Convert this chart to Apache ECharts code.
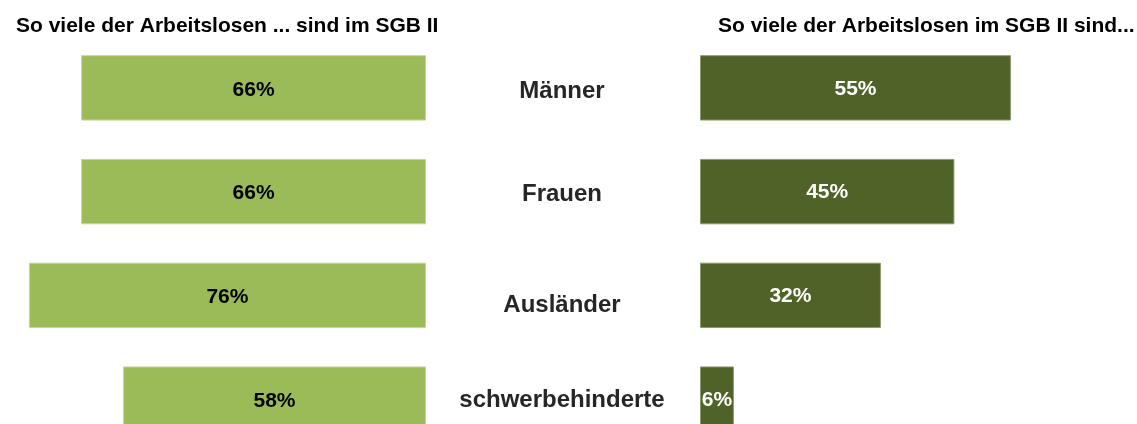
<!DOCTYPE html>
<html lang="de">
<head>
    <meta charset="UTF-8">
    <script src="https://cdn.jsdelivr.net/npm/echarts@6/dist/echarts.min.js"></script>
    <title>SGB II Anteile</title>
    <style>
        html, body { margin: 0; padding: 0; background: #fff; overflow: hidden; }
    </style>
</head>
<body>
<!-- etwas höher als das Fenster: die letzte Balkenreihe wird unten angeschnitten -->
<div id="main" style="width: 1137px;height:451px;"></div>

<script type="text/javascript">

        // Daten
        var categories = ['Männer', 'Frauen', 'Ausländer', 'schwerbehinderte'];
        var inSgb2 = [66, 66, 76, 58];        // Anteil der Arbeitslosen, die im SGB II sind
        var sgb2Anteil = [55, 45, 32, 6];     // Zusammensetzung der Arbeitslosen im SGB II
        var titleLeft = 'So viele der Arbeitslosen ... sind im SGB II';
        var titleRight = 'So viele der Arbeitslosen im SGB II sind...';

        var font = 'Liberation Sans, Arial, Helvetica, sans-serif';

        // Kategorienamen sitzen im Original nicht ganz mittig (Ausländer deutlich tiefer)
        var labelShift = [3, 3, 10, 1];
        var richStyles = {};
        labelShift.forEach(function (s, i) {
            richStyles['c' + i] = {
                fontSize: 24,
                fontWeight: 'bold',
                color: '#262626',
                fontFamily: font,
                padding: [s * 2, 0, 0, 0]
            };
        });

        var myChart = echarts.init(document.getElementById('main'));

        var option = {
            backgroundColor: '#ffffff',
            animation: false,
            textStyle: { fontFamily: font },

            title: [
                {
                    text: titleLeft,
                    left: 11,
                    top: 11,
                    textStyle: { fontSize: 21, fontWeight: 'bold', color: '#000', fontFamily: font }
                },
                {
                    text: titleRight,
                    left: 713,
                    top: 11,
                    textStyle: { fontSize: 21, fontWeight: 'bold', color: '#000', fontFamily: font }
                }
            ],

            grid: [
                { left: 8, right: 711, top: 36, bottom: 0, containLabel: false },
                { left: 700, right: 13, top: 36, bottom: 0, containLabel: false }
            ],

            xAxis: [
                {
                    gridIndex: 0, type: 'value', min: 0, max: 80, inverse: true,
                    show: false
                },
                {
                    gridIndex: 1, type: 'value', min: 0, max: 75,
                    show: false
                }
            ],

            yAxis: [
                {
                    gridIndex: 0, type: 'category', data: categories, inverse: true,
                    position: 'right',
                    axisLine: { show: false },
                    axisTick: { show: false },
                    splitLine: { show: false },
                    axisLabel: {
                        margin: 136,
                        align: 'center',
                        fontSize: 24,
                        fontWeight: 'bold',
                        color: '#262626',
                        fontFamily: font,
                        formatter: function (value, index) {
                            return '{c' + index + '|' + value + '}';
                        },
                        rich: richStyles
                    }
                },
                {
                    gridIndex: 1, type: 'category', data: categories, inverse: true,
                    show: false
                }
            ],

            series: [
                {
                    name: 'im SGB II',
                    type: 'bar',
                    xAxisIndex: 0,
                    yAxisIndex: 0,
                    data: inSgb2,
                    barCategoryGap: '37%',
                    itemStyle: { color: '#9BBB59', borderColor: '#C3D69B', borderWidth: 1 },
                    label: {
                        show: true,
                        position: 'inside',
                        offset: [0, 2],
                        formatter: '{c}%',
                        fontSize: 21,
                        fontWeight: 'bold',
                        color: '#000',
                        fontFamily: font
                    }
                },
                {
                    name: 'Anteil im SGB II',
                    type: 'bar',
                    xAxisIndex: 1,
                    yAxisIndex: 1,
                    data: sgb2Anteil,
                    barCategoryGap: '37%',
                    itemStyle: { color: '#4F6228', borderColor: '#8A9A6A', borderWidth: 1 },
                    label: {
                        show: true,
                        position: 'inside',
                        offset: [0, 1],
                        formatter: '{c}%',
                        fontSize: 21,
                        fontWeight: 'bold',
                        color: '#fff',
                        fontFamily: font
                    }
                }
            ]
        };

        myChart.setOption(option);
    </script>
</body>
</html>
